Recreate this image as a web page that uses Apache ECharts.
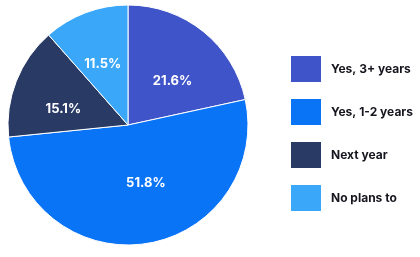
<!DOCTYPE html>
<html><head><meta charset="utf-8">
<script src="https://cdn.jsdelivr.net/npm/echarts@6/dist/echarts.min.js"></script>
<style>html,body{margin:0;padding:0;background:#fff}#c{width:420px;height:257px}</style>
</head><body><div id="c"></div>
<script>
const categories = ["Yes, 3+ years", "Yes, 1-2 years", "Next year", "No plans to"];
const values = [21.6, 51.8, 15.1, 11.5];
const colors = ["#3F54C8", "#0A74F7", "#293B65", "#3BA7F8"];
// small per-label nudges (style only)
const labelNudge = [[5, 5], [8, -4], [-6, 7], [-3, -2]];

const chart = echarts.init(document.getElementById('c'), null, {renderer: 'canvas'});
chart.setOption({
  animation: false,
  legend: {
    orient: 'vertical',
    left: 289, top: 54, padding: 0,
    itemWidth: 32, itemHeight: 28, itemGap: 13,
    icon: 'rect',
    textStyle: {fontFamily: 'Inter', fontWeight: 'bold', fontSize: 12, color: '#16161f', padding: [0,0,0,4]},
    data: categories
  },
  series: [{
    type: 'pie',
    center: [128, 125],
    radius: [0, 120],
    startAngle: 90,
    clockwise: true,
    itemStyle: {borderColor: '#fff', borderWidth: 1},
    label: {
      position: 'inside',
      formatter: p => p.value.toFixed(1) + '%',
      color: '#fff', fontFamily: 'Inter', fontWeight: 'bold', fontSize: 13
    },
    labelLayout: function (p) {
      const n = labelNudge[p.dataIndex];
      return {dx: n[0], dy: n[1]};
    },
    labelLine: {show: false},
    data: categories.map((n, i) => ({name: n, value: values[i], itemStyle: {color: colors[i]}}))
  }]
});
</script></body></html>
